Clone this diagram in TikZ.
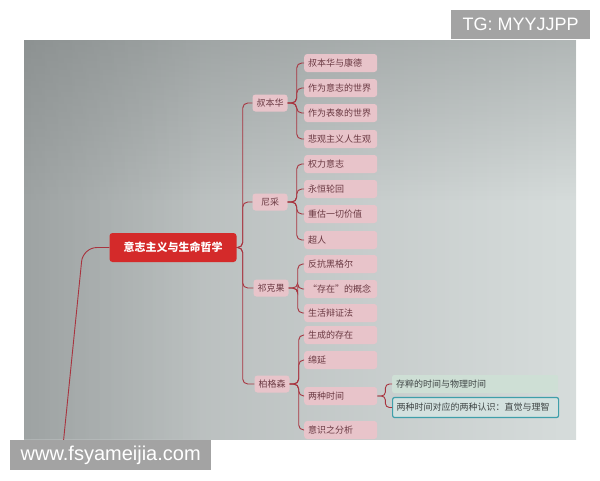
\documentclass[tikz,border=0pt]{standalone}
\usepackage{fontspec}
\usetikzlibrary{fadings}
\newfontfamily\cjk{Noto Sans CJK SC}
\newfontfamily\wm{Liberation Sans}
\definecolor{conncol}{HTML}{A8343F}
\definecolor{pinkfill}{HTML}{E8C4CA}
\definecolor{txtcol}{HTML}{6A3942}
\definecolor{rootred}{HTML}{D42A2A}
\definecolor{wmgray}{HTML}{A3A3A3}
\definecolor{scrL}{HTML}{AEB3B3}
\definecolor{scrM}{HTML}{C8CFCE}
\definecolor{scrR}{HTML}{D6DCDB}
\definecolor{shadow}{HTML}{6E7373}
\definecolor{greenfill}{HTML}{CEDFD5}
\definecolor{tealfill}{HTML}{D3E1DF}
\definecolor{tealline}{HTML}{3F9FAA}
\definecolor{darktxt}{HTML}{3E4444}
\begin{document}
\begin{tikzpicture}[x=1pt,y=-1pt,
  conn/.style={draw=conncol, line width=0.9pt, rounded corners=5pt},
  rootbox/.style={fill=rootred, rounded corners=3pt, text=white, font=\cjk\bfseries\fontsize{11}{13}\selectfont,
     minimum width=127pt, minimum height=29pt, inner sep=0pt},
  branchbox/.style={fill=pinkfill, rounded corners=3pt, text=txtcol, font=\cjk\fontsize{9}{11}\selectfont,
     minimum width=35pt, minimum height=17pt, inner sep=2pt},
  leafbox/.style={fill=pinkfill, rounded corners=3pt, text=txtcol, font=\cjk\fontsize{9}{11}\selectfont,
     anchor=west, text width=65pt, align=left, minimum height=18pt, inner xsep=4pt, inner ysep=0pt},
  subbox/.style={rounded corners=2pt, text=darktxt, font=\cjk\fontsize{9}{11}\selectfont,
     anchor=west, text width=158pt, align=left, inner xsep=4pt, inner ysep=0pt}
]
\useasboundingbox (0,0) rectangle (600,480);
% screen
\shade[left color=scrL, middle color=scrM, right color=scrR, shading angle=90] (24,40) rectangle (576,439);
\fill[shadow, opacity=0.35, path fading=south] (24,40) rectangle (576,200);
\fill[shadow, opacity=0.25, path fading=east] (24,40) rectangle (200,439);
\begin{scope}
\clip (24,40) rectangle (576,439);
% root
\node[rootbox] (root) at (173,247.5) {意志主义与生命哲学};
\coordinate (tail) at (63,446);
\draw[conn, rounded corners=14pt] (root.west) -- (83,247.5) -- (tail);
% branches
\node[branchbox] (b1) at (270,103) {叔本华};
\node[branchbox] (b2) at (270,202) {尼采};
\node[branchbox] (b3) at (271,288) {祁克果};
\node[branchbox] (b4) at (272,384) {柏格森};
\foreach \b in {b1,b2,b3,b4}
  \draw[conn] (root.east) -- ++(6,0) |- (\b.west);
% leaves of b1
\node[leafbox] (a1) at (304,63) {叔本华与康德};
\node[leafbox] (a2) at (304,88) {作为意志的世界};
\node[leafbox] (a3) at (304,113) {作为表象的世界};
\node[leafbox] (a4) at (304,139) {悲观主义人生观};
\foreach \c in {a1,a2,a3,a4}
  \draw[conn] (b1.east) -- ++(9,0) |- (\c.west);
% leaves of b2
\node[leafbox] (n1) at (304,164) {权力意志};
\node[leafbox] (n2) at (304,189) {永恒轮回};
\node[leafbox] (n3) at (304,214) {重估一切价值};
\node[leafbox] (n4) at (304,240) {超人};
\foreach \c in {n1,n2,n3,n4}
  \draw[conn] (b2.east) -- ++(9,0) |- (\c.west);
% leaves of b3
\node[leafbox] (k1) at (304,264) {反抗黑格尔};
\node[leafbox] (k2) at (304,289) {“存在”的概念};
\node[leafbox] (k3) at (304,313) {生活辩证法};
\foreach \c in {k1,k2,k3}
  \draw[conn] (b3.east) -- ++(9,0) |- (\c.west);
% leaves of b4
\node[leafbox] (g1) at (304,335) {生成的存在};
\node[leafbox] (g2) at (304,360) {绵延};
\node[leafbox] (g3) at (304,396) {两种时间};
\node[leafbox] (g4) at (304,430) {意识之分析};
\foreach \c in {g1,g2,g3,g4}
  \draw[conn] (b4.east) -- ++(9,0) |- (\c.west);
% sub leaves of g3
\node[subbox, fill=greenfill, minimum height=18pt] (u1) at (392,384) {存粹的时间与物理时间};
\node[subbox, fill=tealfill, draw=tealline, line width=1.2pt, minimum height=20pt] (u2) at (392,407.5) {两种时间对应的两种认识：直觉与理智};
\foreach \c in {u1,u2}
  \draw[conn, rounded corners=4pt] (g3.east) -- ++(8,0) |- (\c.west);
\end{scope}
% watermarks
\node[fill=wmgray, text=white, font=\wm\fontsize{18}{20}\selectfont, minimum width=139pt, minimum height=29pt, inner sep=0pt, anchor=north west] (tg) at (451,10) {TG: MYYJJPP};
\node[fill=wmgray, text=white, font=\wm\fontsize{20}{22}\selectfont, minimum width=201pt, minimum height=30pt, inner sep=0pt, anchor=north west] (www) at (10,440) {www.fsyameijia.com};
\end{tikzpicture}
\end{document}
